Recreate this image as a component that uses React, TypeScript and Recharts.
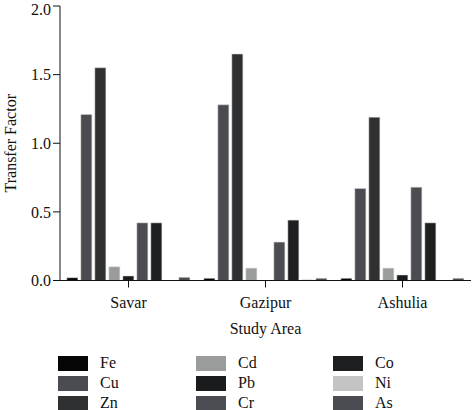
import React from "react";
import { BarChart, Bar, XAxis, YAxis, Legend } from "recharts";

const categories = ["Savar", "Gazipur", "Ashulia"];
const metals = ["Fe", "Cu", "Zn", "Cd", "Pb", "Cr", "Co", "Ni", "As"];
const colors = ["#050505", "#4a4c52", "#2f3032", "#9a9c9c", "#1a1b1c", "#4b4d52", "#1d1e20", "#c4c4c4", "#4a4c52"];

const Fe = [0.02, 0.016, 0.016];
const Cu = [1.21, 1.28, 0.67];
const Zn = [1.55, 1.65, 1.19];
const Cd = [0.1, 0.09, 0.09];
const Pb = [0.033, 0, 0.04];
const Cr = [0.42, 0.28, 0.68];
const Co = [0.42, 0.44, 0.42];
const Ni = [0, 0.006, 0];
const As = [0.023, 0.016, 0.016];
const yTicks = [0, 0.5, 1.0, 1.5, 2.0];

const seriesValues = [Fe, Cu, Zn, Cd, Pb, Cr, Co, Ni, As];

const data = categories.map((c, i) => {
  const row: Record<string, string | number> = { area: c };
  metals.forEach((m, k) => {
    row[m] = seriesValues[k][i];
  });
  return row;
});

const font = "'Liberation Serif', 'DejaVu Serif', serif";

const renderLegend = () => (
  <div
    style={{
      display: "grid",
      gridTemplateColumns: "138px 137px 100px",
      gridAutoFlow: "column",
      gridTemplateRows: "repeat(3, 20px)",
      paddingLeft: 58,
      paddingTop: 9,
      fontFamily: font,
      fontSize: 16,
      color: "#111",
    }}
  >
    {metals.map((m, k) => (
      <div key={m} style={{ display: "flex", alignItems: "center" }}>
        <span
          style={{
            display: "inline-block",
            width: 30,
            height: 15,
            background: colors[k],
            marginRight: 12,
          }}
        />
        <span>{m}</span>
      </div>
    ))}
  </div>
);

export default function App() {
  return (
    <div style={{ position: "absolute", left: 0, top: 0 }}>
      <BarChart
        width={473}
        height={410}
        data={data}
        margin={{ top: 6, right: 2, left: 0, bottom: 0 }}
        barCategoryGap="5%"
        barGap={3}
      >
        <XAxis
          dataKey="area"
          height={63.5}
          tickLine={{ stroke: "#111" }}
          tickSize={7}
          tickMargin={9}
          axisLine={{ stroke: "#111" }}
          tick={{ fill: "#111", fontFamily: font, fontSize: 16 }}
          label={{ value: "Study Area", position: "insideBottom", offset: 10, fill: "#111", fontFamily: font, fontSize: 16 }}
        />
        <YAxis
          width={60}
          domain={[0, 2]}
          ticks={yTicks}
          tickFormatter={(v: number) => v.toFixed(1)}
          tickLine={{ stroke: "#111" }}
          tickSize={7}
          axisLine={{ stroke: "#111" }}
          tick={{ fill: "#111", fontFamily: font, fontSize: 16 }}
          label={{ value: "Transfer Factor", angle: -90, position: "insideLeft", offset: 10, fill: "#111", fontFamily: font, fontSize: 16, style: { textAnchor: "middle" } }}
        />
        <Legend verticalAlign="bottom" content={renderLegend} wrapperStyle={{ height: 66 }} />
        {metals.map((m, k) => (
          <Bar key={m} dataKey={m} fill={colors[k]} stroke="#d8d8d8" strokeWidth={0.5} isAnimationActive={false} />
        ))}
      </BarChart>
    </div>
  );
}
